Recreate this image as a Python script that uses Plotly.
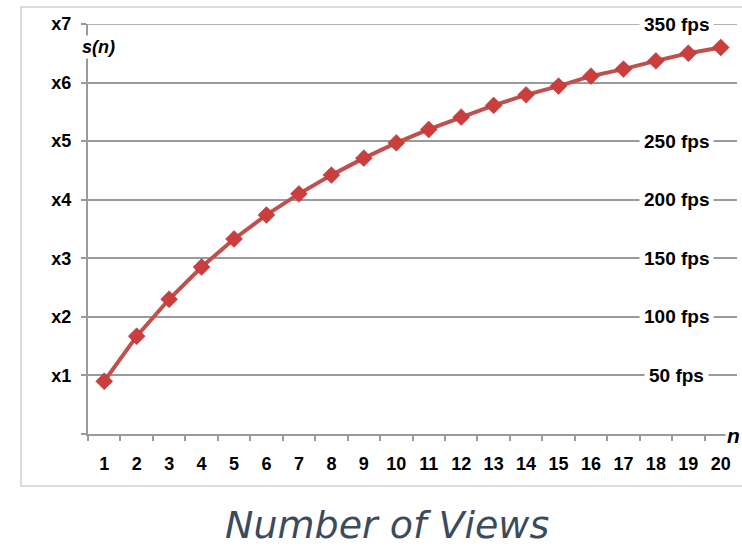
import plotly.graph_objects as go

views = list(range(1, 21))
speedup = [0.90, 1.67, 2.30, 2.85, 3.33, 3.74, 4.10, 4.42, 4.71, 4.97,
           5.20, 5.41, 5.61, 5.79, 5.94, 6.11, 6.23, 6.37, 6.50, 6.60]
y_ticks = [0, 1, 2, 3, 4, 5, 6, 7]
y_ticktext = ["", "x1", "x2", "x3", "x4", "x5", "x6", "x7"]
fps_levels = [1, 2, 3, 4, 5, 7]
fps_text = ["50 fps", "100 fps", "150 fps", "200 fps", "250 fps", "350 fps"]

LBL = "Liberation Sans, Arial, sans-serif"
GRID = "#9a9a9a"

FW, FH = 742, 549
L, T = 88, 24            # plot-area left/top in pixels
R, B = 737, 434          # plot-area right/bottom in pixels
PW, PH = R - L, B - T


def px(xp):
    return (xp - L) / PW


def py(yp):
    return (B - yp) / PH


fig = go.Figure()
fig.add_trace(go.Scatter(
    x=[str(v) for v in views], y=speedup, mode="lines+markers",
    line=dict(color="#c0504d", width=4),
    marker=dict(symbol="diamond", size=13, color="#cc3d3d",
                line=dict(color="#a83232", width=0.5)),
    showlegend=False, hoverinfo="x+y"))

for lv, tx in zip(fps_levels, fps_text):
    fig.add_annotation(x=px(676), xref="paper", y=lv, yref="y", text=tx,
                       xanchor="center", yanchor="middle",
                       showarrow=False, bgcolor="white", borderpad=4,
                       font=dict(family=LBL, size=19, color="black", weight="bold"))

fig.add_annotation(x=px(98), xref="paper", y=py(47), yref="paper",
                   xanchor="center", yanchor="middle",
                   text="s(n)", showarrow=False, bgcolor="white", borderpad=1,
                   font=dict(family=LBL, size=18, color="black", weight="bold", style="italic"))
fig.add_annotation(x=px(733), xref="paper", y=py(435), yref="paper",
                   xanchor="center", yanchor="middle",
                   text="n", showarrow=False, bgcolor="white", borderpad=1,
                   font=dict(family=LBL, size=21, color="black", weight="bold", style="italic"))
fig.add_annotation(x=px(387), xref="paper", y=py(525), yref="paper",
                   xanchor="center", yanchor="middle",
                   text="Number of Views", showarrow=False,
                   font=dict(family="DejaVu Sans, sans-serif", size=38, color="#3b4b5c", style="italic"))

fig.add_shape(type="line", xref="paper", yref="y", x0=0, x1=1, y0=7, y1=7,
              line=dict(color=GRID, width=1.5), layer="below")
fig.add_shape(type="rect", xref="paper", yref="paper",
              x0=px(21), x1=px(760), y0=py(486), y1=py(7),
              line=dict(color="#d0d0d0", width=1.5), fillcolor="rgba(0,0,0,0)", layer="below")

fig.update_layout(
    width=FW, height=FH,
    margin=dict(l=L, r=FW - R, t=T, b=FH - B, pad=0),
    paper_bgcolor="white", plot_bgcolor="white",
    xaxis=dict(type="category", range=[-0.5, 19.5], showgrid=False,
               showline=True, linecolor=GRID, linewidth=2,
               ticks="outside", tickson="boundaries", ticklen=5, tickcolor=GRID,
               tickwidth=1.5, ticklabelstandoff=12,
               tickfont=dict(family=LBL, size=18, color="black", weight="bold")),
    yaxis=dict(range=[0, 7], tickvals=y_ticks, ticktext=y_ticktext,
               showgrid=True, gridcolor=GRID, gridwidth=1.5, zeroline=False,
               showline=True, linecolor=GRID, linewidth=2,
               ticks="outside", ticklen=5, tickcolor=GRID, tickwidth=1.5,
               ticklabelstandoff=6,
               tickfont=dict(family=LBL, size=18, color="black", weight="bold")),
)

fig.write_html("out.html", config={"displayModeBar": False},
               post_script="document.body.style.margin='0';document.body.style.overflow='hidden';")
